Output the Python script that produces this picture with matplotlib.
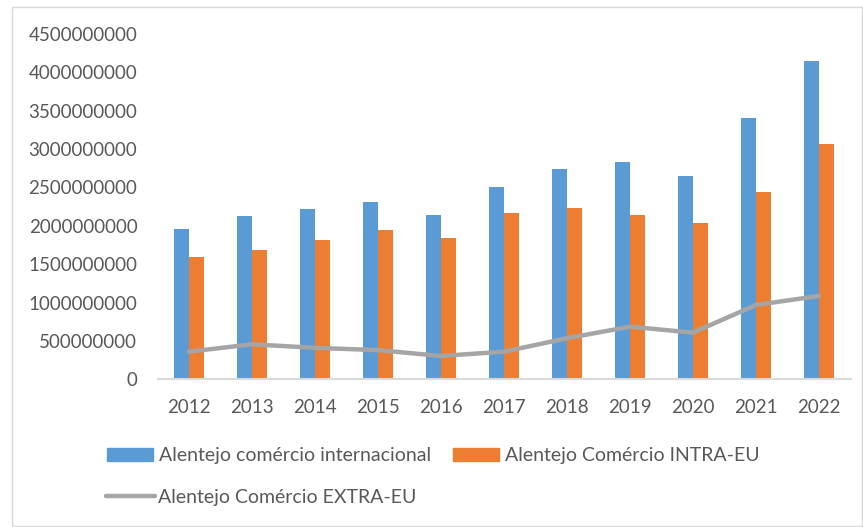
import numpy as np
import matplotlib
matplotlib.use("Agg")
import matplotlib.pyplot as plt
from matplotlib.patches import Rectangle
from matplotlib.lines import Line2D

# values
years = ["2012", "2013", "2014", "2015", "2016", "2017", "2018", "2019", "2020", "2021", "2022"]
internacional = [1.963e9, 2.13e9, 2.22e9, 2.31e9, 2.146e9, 2.507e9, 2.746e9, 2.837e9, 2.647e9, 3.411e9, 4.146e9]
intra_eu = [1.60e9, 1.686e9, 1.816e9, 1.95e9, 1.846e9, 2.164e9, 2.237e9, 2.146e9, 2.042e9, 2.446e9, 3.064e9]
extra_eu = [0.36e9, 0.456e9, 0.41e9, 0.38e9, 0.304e9, 0.36e9, 0.535e9, 0.686e9, 0.608e9, 0.969e9, 1.086e9]
yticks = [0, 5e8, 1e9, 1.5e9, 2e9, 2.5e9, 3e9, 3.5e9, 4e9, 4.5e9]

labels = ["Alentejo comércio internacional", "Alentejo Comércio INTRA-EU", "Alentejo Comércio EXTRA-EU"]
BLUE, ORANGE, GRAY = "#5b9bd5", "#ed7d31", "#a5a5a5"
TXT = "#595959"

plt.rcParams['font.family'] = ['Lato', 'DejaVu Sans']

W, H = 863, 527
fig = plt.figure(figsize=(W / 100, H / 100), dpi=100)

# outer chart border
fig.patches.append(Rectangle((12 / W, 1 - 526 / H), (862 - 12) / W, (526 - 7) / H,
                             transform=fig.transFigure, fill=False,
                             edgecolor="#d9d9d9", linewidth=1))

ax = fig.add_axes([157.5 / W, 1 - 379.3 / H, (850.5 - 157.5) / W, (379.3 - 34) / H])

x = np.arange(len(years))
bw = 0.24
ax.bar(x - bw / 2, internacional, bw, color=BLUE, label=labels[0])
ax.bar(x + bw / 2, intra_eu, bw, color=ORANGE, label=labels[1])
ax.plot(x, extra_eu, color=GRAY, linewidth=3.2, solid_capstyle="round", label=labels[2])

ax.set_xlim(-0.5, len(years) - 0.5)
ax.set_ylim(0, 4.5e9)
ax.set_xticks(x)
ax.set_xticklabels(years)
ax.set_yticks(yticks)
ax.set_yticklabels([str(int(v)) for v in yticks])
ax.tick_params(length=0, labelsize=13.5, labelcolor=TXT)
ax.tick_params(axis="y", pad=14.5)
ax.tick_params(axis="x", pad=14)
for s in ["top", "right", "left"]:
    ax.spines[s].set_visible(False)
ax.spines["bottom"].set_color("#d9d9d9")
ax.spines["bottom"].set_linewidth(1.5)

# legend, row 1 and row 2
fs = 14
h1 = [Rectangle((0, 0), 1, 1, color=BLUE), Rectangle((0, 0), 1, 1, color=ORANGE)]
fig.legend(h1, labels[:2], ncol=2, loc="center left",
           bbox_to_anchor=(107 / W, 1 - 455.5 / H), frameon=False,
           fontsize=fs, labelcolor=TXT, borderpad=0, borderaxespad=0,
           handlelength=2.37, handleheight=0.67, handletextpad=0.3,
           columnspacing=1.15)
h2 = [Line2D([0], [0], color=GRAY, linewidth=3.2, solid_capstyle="round")]
fig.legend(h2, labels[2:], loc="center left",
           bbox_to_anchor=(106 / W, 1 - 497 / H), frameon=False,
           fontsize=fs, labelcolor=TXT, borderpad=0, borderaxespad=0,
           handlelength=2.5, handletextpad=0.15)

fig.savefig("out.png", dpi=100)
